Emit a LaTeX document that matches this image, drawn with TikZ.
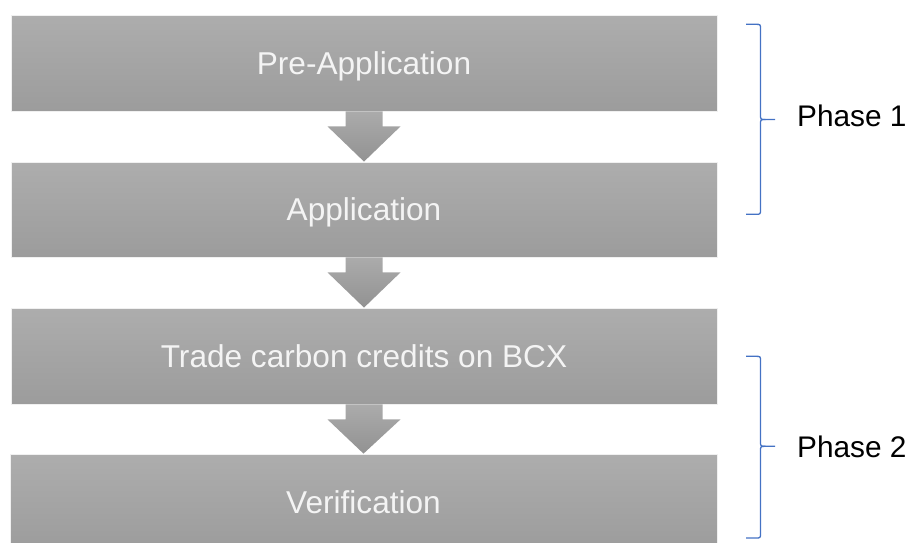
\documentclass[tikz,border=0pt]{standalone}
\usepackage{fontspec}
\setmainfont{Liberation Sans}
\usetikzlibrary{calc}
\definecolor{boxtop}{HTML}{ADADAD}
\definecolor{boxbot}{HTML}{9C9C9C}
\definecolor{arrtop}{HTML}{ABABAB}
\definecolor{arrbot}{HTML}{929292}
\definecolor{bracecol}{HTML}{4472C4}
\definecolor{txtcol}{HTML}{F4F4F4}
\tikzset{
  stepbox/.style={rectangle, minimum width=706pt, minimum height=96pt, inner sep=0pt,
    top color=boxtop, bottom color=boxbot, draw=white!88!gray, line width=0.8pt,
    text=txtcol, font=\fontsize{31.6}{36}\selectfont, text height=22pt, text depth=0pt},
  arrowfill/.style={top color=arrtop, bottom color=arrbot, draw=none},
  bracestyle/.style={draw=bracecol, line width=1.3pt, line join=round},
  phaselabel/.style={anchor=base west, inner sep=0pt, font=\fontsize{29.8}{34}\selectfont, text=black}
}
\newcommand\flowarrow[2]{%
  \path[arrowfill] ($(#1.south)+(-18.5,0)$) -- ($(#1.south)+(18.5,0)$) -- ($(#1.south)+(18.5,15)$)
    -- ($(#1.south)+(36.5,15)$) -- (#2.north) -- ($(#1.south)+(-36.5,15)$)
    -- ($(#1.south)+(-18.5,15)$) -- cycle;}
\begin{document}
\begin{tikzpicture}[x=1pt,y=-1pt]
\useasboundingbox (0,0) rectangle (917,542);
\node[stepbox] (b1) at (364,63) {Pre-Application};
\node[stepbox, minimum height=95pt] (b2) at (364,209.5) {Application};
\node[stepbox] (b3) at (364,356) {Trade carbon credits on BCX};
\node[stepbox, minimum width=707pt] (b4) at (363.5,502) {Verification};
\flowarrow{b1}{b2}
\flowarrow{b2}{b3}
\flowarrow{b3}{b4}
% Phase 1 brace
\coordinate (p1top) at (746,24.3);
\coordinate (p1tip) at (775,119.5);
\coordinate (p1bot) at (746,214.3);
\draw[bracestyle] (p1top) -- (755.5,24.3) .. controls (760.5,24.3) .. (760.5,29.3)
  -- (760.5,114.5) .. controls (760.5,119.5) .. (765.5,119.5) -- (p1tip);
\draw[bracestyle] (765.5,119.5) .. controls (760.5,119.5) .. (760.5,124.5)
  -- (760.5,209.3) .. controls (760.5,214.3) .. (755.5,214.3) -- (p1bot);
\node[phaselabel] (ph1) at (797,126.5) {Phase 1};
% Phase 2 brace
\coordinate (p2top) at (746,356.3);
\coordinate (p2tip) at (775,446.3);
\coordinate (p2bot) at (746,538);
\draw[bracestyle] (p2top) -- (755.5,356.3) .. controls (760.5,356.3) .. (760.5,361.3)
  -- (760.5,441.3) .. controls (760.5,446.3) .. (765.5,446.3) -- (p2tip);
\draw[bracestyle] (765.5,446.3) .. controls (760.5,446.3) .. (760.5,451.3)
  -- (760.5,533) .. controls (760.5,538) .. (755.5,538) -- (p2bot);
\node[phaselabel] (ph2) at (797,457) {Phase 2};
\end{tikzpicture}
\end{document}
